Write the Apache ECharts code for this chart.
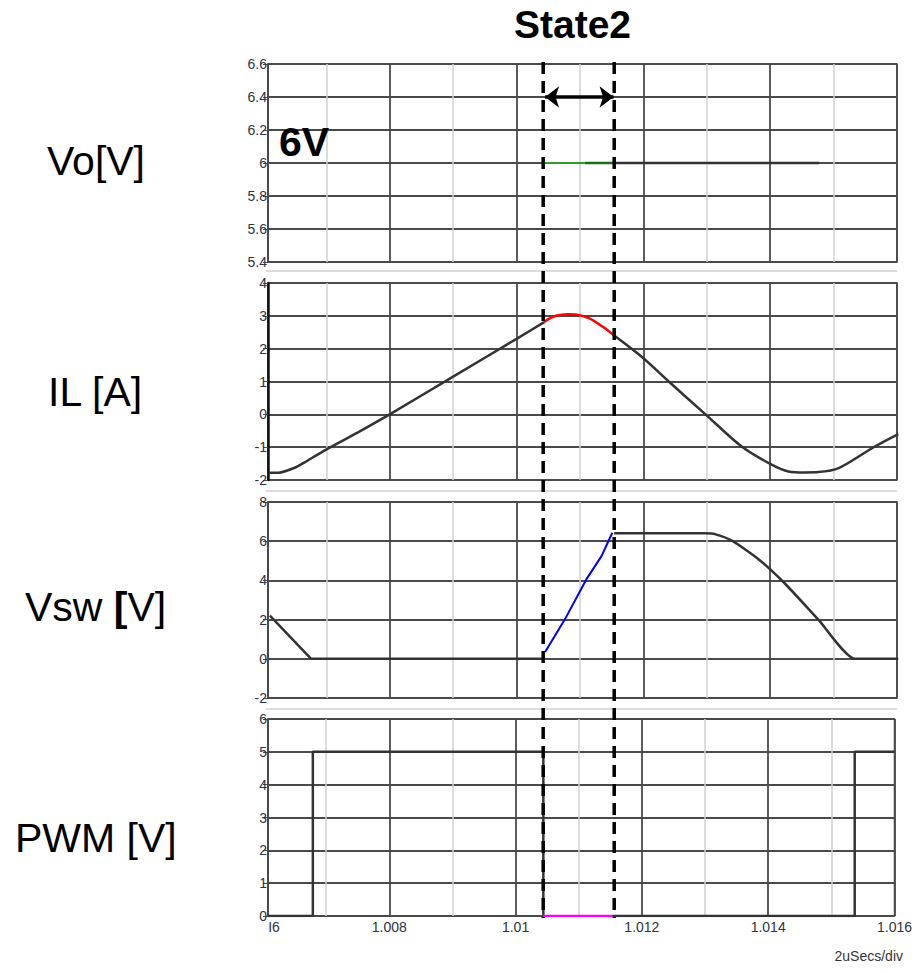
<!DOCTYPE html>
<html>
<head>
<meta charset="utf-8">
<title>State2 waveforms</title>
<script src="https://cdn.jsdelivr.net/npm/echarts@6/dist/echarts.min.js"></script>
<style>
  html, body { margin: 0; padding: 0; background: #fff; }
  #chart { width: 915px; height: 972px; }
</style>
</head>
<body>
<div id="chart"></div>
<script>
// time axis (ms)
var xMin = 1.00608;
var xMax = 1.016;
var state2 = [1.01042, 1.01154];

// Vo [V]
var voGreenT = [1.01042, 1.01108];
var voGreenV = [6, 6];
var voDarkGreenT = [1.01108, 1.01154];
var voDarkGreenV = [6, 6];
var voT = [1.01154, 1.01477];
var voV = [6, 6];

// IL [A]
var ilT1 = [1.0061, 1.00625, 1.00651, 1.00665, 1.00699, 1.0075, 1.008, 1.009, 1.010, 1.01043];
var ilV1 = [-1.78, -1.78, -1.62, -1.47, -1.08, -0.55, 0.0, 1.15, 2.3, 2.8];
var ilRedT = [1.01043, 1.0105, 1.01062, 1.0108, 1.01093, 1.01114, 1.01135, 1.01154];
var ilRedV = [2.8, 2.9, 3.0, 3.05, 3.04, 2.93, 2.68, 2.4];
var ilT2 = [1.01154, 1.0120, 1.0124, 1.01298, 1.01355, 1.01403, 1.01429, 1.01455, 1.01476, 1.01508, 1.01565, 1.01602];
var ilV2 = [2.4, 1.71, 1.0, 0.0, -0.98, -1.54, -1.74, -1.77, -1.76, -1.64, -0.98, -0.6];

// Vsw [V]
var vswT1 = [1.00611, 1.00676, 1.01045];
var vswV1 = [2.2, 0, 0];
var vswBlueT = [1.01045, 1.01076, 1.0111, 1.01134, 1.01151];
var vswBlueV = [0.35, 2.0, 4.05, 5.24, 6.43];
var vswT2 = [1.01154, 1.01297, 1.01314, 1.01341, 1.01382, 1.01422, 1.01476, 1.01534, 1.01602];
var vswV2 = [6.4, 6.4, 6.35, 6.0, 5.07, 3.88, 2.0, 0.0, 0.0];

// PWM [V]
var pwmT1 = [1.00608, 1.00679, 1.00679, 1.01044, 1.01044];
var pwmV1 = [0, 0, 5, 5, 0];
var pwmPinkT = [1.01044, 1.01154];
var pwmPinkV = [0, 0];
var pwmT2 = [1.01154, 1.01537, 1.01537, 1.016];
var pwmV2 = [0, 0, 5, 5];

// panel y ranges
var yMins = [5.4, -2, -2, 0];
var yMaxs = [6.6, 4, 8, 6];
var yIntervals = [0.2, 1, 2, 1];
var panelLabels = ['Vo[V]', 'IL [A]', 'Vsw {b|[}V]', 'PWM [V]'];

function pairs(t, v) {
  return t.map(function(x, i) { return [x, v[i]]; });
}

var gridTops = [64, 283, 502, 719];
var gridHeights = [198, 197, 196, 197];
var dark = '#4a4a4a';
var light = '#d0d0d0';
var ink = '#333';
var tickInk = '#2e3440';

var grids = [], xAxes = [], yAxes = [];
for (var i = 0; i < 4; i++) {
  grids.push({ left: 268, right: 18, top: gridTops[i], height: gridHeights[i], show: true, borderColor: dark, borderWidth: 1.5 });
  xAxes.push({
    type: 'value', gridIndex: i, min: xMin, max: xMax, splitNumber: 5,
    axisLine: { show: false },
    axisTick: { show: false },
    minorTick: { show: false, splitNumber: 2 },
    splitLine: { show: true, lineStyle: { color: dark, width: 1.8 } },
    minorSplitLine: { show: true, lineStyle: { color: light, width: 1.5 } },
    axisLabel: i === 3 ? {
      show: true, color: tickInk, fontSize: 14, fontFamily: 'Liberation Sans', margin: 4,
      showMinLabel: true, showMaxLabel: true,
      formatter: function(v) { return v < 1.007 ? '{a|I6}' : String(+v.toFixed(3)); },
      rich: { a: { fontSize: 14, color: tickInk, padding: [0, 0, 0, 12] } }
    } : { show: false }
  });
  yAxes.push({
    type: 'value', gridIndex: i, min: yMins[i], max: yMaxs[i], interval: yIntervals[i],
    axisLine: { show: true, lineStyle: { color: i === 1 ? '#111' : dark, width: i === 1 ? 2.5 : 1.5 } },
    axisTick: { show: true, length: 5, lineStyle: { color: dark } },
    splitLine: { show: true, lineStyle: { color: dark, width: 1.8 } },
    axisLabel: { color: tickInk, fontSize: 14, fontFamily: 'Liberation Sans', margin: 1,
      formatter: function(v) { return String(+v.toFixed(1)); } }
  });
}

function line(idx, t, v, color, width, smooth) {
  return {
    type: 'line', xAxisIndex: idx, yAxisIndex: idx, data: pairs(t, v),
    showSymbol: false, symbol: 'none', silent: true, smooth: smooth || false,
    lineStyle: { color: color, width: width || 2.5 }
  };
}

var arrowSeries = line(0, voGreenT, voGreenV, '#2ca02c', 2);
arrowSeries.markLine = {
  silent: true, symbol: ['arrow', 'arrow'], symbolSize: [16, 14],
  label: { show: false },
  lineStyle: { color: '#000', width: 3.5, type: 'solid' },
  data: [[{ coord: [state2[0] + 0.00003, 6.4] }, { coord: [state2[1] - 0.00001, 6.4] }]]
};

var series = [
  arrowSeries,
  line(0, voDarkGreenT, voDarkGreenV, '#1a6e1a', 2.5),
  line(0, voT, voV, ink, 2.5),
  line(1, ilT1, ilV1, ink, 2.5, 0.2),
  line(1, ilRedT, ilRedV, '#ff0000', 2.5, 0.3),
  line(1, ilT2, ilV2, ink, 2.5, 0.3),
  line(2, vswT1, vswV1, ink, 2.5),
  line(2, vswBlueT, vswBlueV, '#0000ff', 2),
  line(2, vswT2, vswV2, ink, 2.5, 0.2),
  line(3, pwmT1, pwmV1, ink, 2.5),
  line(3, pwmPinkT, pwmPinkV, '#ff00ff', 2.5),
  line(3, pwmT2, pwmV2, ink, 2.5)
];

var chart = echarts.init(document.getElementById('chart'), null, { renderer: 'svg' });
chart.setOption({
  animation: false,
  backgroundColor: '#fff',
  grid: grids,
  xAxis: xAxes,
  yAxis: yAxes,
  series: series
});

// annotations placed from the axis scale
var x1 = chart.convertToPixel({ xAxisIndex: 0 }, state2[0]);
var x2 = chart.convertToPixel({ xAxisIndex: 0 }, state2[1]);
var labelBase = [176, 407, 622, 853];
var labelLeft = [47, 48, 25, 15];
var graphics = [];
[271, 491, 709].forEach(function(y) {
  graphics.push({ type: 'line', shape: { x1: 266, y1: y, x2: 897, y2: y }, style: { stroke: '#dcdcdc', lineWidth: 2 }, silent: true });
});
[x1, x2].forEach(function(x) {
  graphics.push({ type: 'line', z: 100, shape: { x1: x, y1: 62, x2: x, y2: 918 }, style: { stroke: '#000', lineWidth: 3.5, lineDash: [12, 7] }, silent: true });
});
panelLabels.forEach(function(t, i) {
  graphics.push({ type: 'text', left: labelLeft[i], top: labelBase[i] - 36, silent: true,
    style: { text: t, fontSize: 41, fontFamily: 'Liberation Sans', fill: '#000',
      rich: { b: { fontSize: 41, fontWeight: 'bold', fontFamily: 'Liberation Sans', fill: '#000' } } } });
});
graphics.push({ type: 'text', left: 514, top: 5, silent: true, z: 100,
  style: { text: 'State2', fontSize: 39, fontWeight: 'bold', fontFamily: 'Liberation Sans', fill: '#000' } });
graphics.push({ type: 'text', left: 279, top: 121, silent: true, z: 100,
  style: { text: '6V', fontSize: 41, fontWeight: 'bold', fontFamily: 'Liberation Sans', fill: '#000' } });
graphics.push({ type: 'text', right: 12, top: 949, silent: true,
  style: { text: '2uSecs/div', fontSize: 14, fontFamily: 'Liberation Sans', fill: '#333' } });
chart.setOption({ graphic: graphics });
</script>
</body>
</html>
